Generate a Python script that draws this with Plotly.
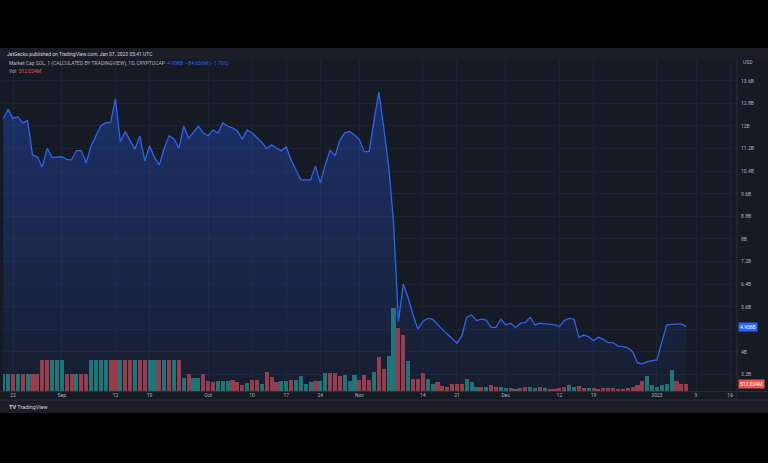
import plotly.graph_objects as go
import pandas as pd

# ---------------- data ----------------
dates = pd.date_range("2022-08-20", "2023-01-07", freq="D")

# Market cap of SOL, billions USD (daily close)
mcap_b = [
    12.27, 12.59, 12.27, 12.33, 12.10, 12.19, 10.97, 10.91, 10.54, 11.21,
    10.89, 10.89, 10.91, 10.82, 10.80, 11.13, 11.13, 10.70, 11.29, 11.65,
    12.00, 12.12, 12.12, 12.96, 11.44, 11.80, 11.48, 11.18, 11.65, 10.77,
    11.29, 10.89, 10.62, 11.21, 11.65, 11.55, 11.21, 12.00, 11.56, 11.76,
    12.00, 11.75, 11.65, 11.86, 11.75, 12.11, 12.00, 11.93, 11.82, 11.54,
    11.86, 11.75, 11.58, 11.43, 11.19, 11.33, 11.22, 11.12, 11.26, 10.80,
    10.44, 10.09, 10.09, 10.09, 10.58, 9.98, 10.62, 11.15, 10.94, 11.50,
    11.76, 11.81, 11.68, 11.52, 11.09, 11.09, 12.21, 13.21, 11.93, 10.58,
    8.60, 5.07, 6.41, 5.91, 5.31, 4.81, 5.08, 5.19, 5.16, 4.96,
    4.80, 4.64, 4.46, 4.31, 4.57, 5.24, 5.31, 5.11, 5.16, 5.13,
    4.87, 4.87, 5.16, 4.96, 5.02, 4.86, 5.02, 5.04, 5.23, 4.96,
    5.02, 4.99, 4.98, 4.96, 4.90, 5.11, 5.19, 5.16, 4.52, 4.60,
    4.54, 4.40, 4.52, 4.45, 4.33, 4.33, 4.21, 4.19, 4.15, 4.01,
    3.62, 3.58, 3.66, 3.69, 3.72, 4.36, 4.96, 4.98, 4.98, 4.993,
    4.908,
]

# Volume, millions USD
vol_m = [
    1241, 1241, 1241, 1241, 1241, 1241, 1241, 1241, 2263, 2263,
    2263, 2263, 2263, 1241, 1241, 1241, 1241, 1241, 2263, 2263,
    2263, 2263, 2263, 2263, 2263, 2263, 2263, 2263, 2263, 2263,
    2263, 2263, 2263, 2263, 2263, 2263, 2263, 949, 1241, 949,
    949, 1241, 730, 657, 730, 730, 730, 803, 657, 438,
    584, 803, 803, 511, 1387, 1022, 657, 730, 730, 803,
    803, 1095, 511, 657, 730, 730, 1314, 1314, 1314, 1095,
    1168, 730, 1168, 803, 1168, 803, 1387, 2482, 1606, 2555,
    6059, 4599, 4088, 2190, 876, 876, 1314, 876, 511, 657,
    365, 314, 489, 489, 511, 876, 635, 314, 314, 270,
    438, 314, 314, 241, 241, 168, 197, 314, 292, 241,
    270, 219, 168, 168, 241, 314, 438, 270, 343, 219,
    197, 241, 168, 219, 197, 219, 168, 146, 197, 270,
    460, 752, 1117, 438, 270, 438, 511, 1533, 752, 511,
    512.024,
]

# bar direction: g = up day (teal), r = down day (red)
vol_dir = list(
    "ggrgrgrr" "rrggg" "rrgrr"
    "ggggrrgrrgrrggrgrgr"
    "grggrrrgggrrrgrrgrrrggrggggrggrrrgggrrrgrrggrrg"
    "rrrggrrrrrrgggrgrrggrgrrgg"
    "rgrrrrggrrgrrrrrrrrrrrg"
    "gggggrrr"
)

x_tick_dates = [
    "2022-08-22", "2022-09-01", "2022-09-12", "2022-09-19", "2022-10-01",
    "2022-10-10", "2022-10-17", "2022-10-24", "2022-11-01", "2022-11-14",
    "2022-11-21", "2022-12-01", "2022-12-12", "2022-12-19", "2023-01-01",
    "2023-01-09", "2023-01-16",
]
x_tick_text = ["22", "Sep", "12", "19", "Oct", "10", "17", "24", "Nov",
               "14", "21", "Dec", "12", "19", "2023", "9", "16"]

# 4.8B level is covered by the last-price label, so its text is left empty
y_tick_vals = [3.2, 4.0, 4.8, 5.6, 6.4, 7.2, 8.0, 8.8, 9.6, 10.4, 11.2, 12.0, 12.8, 13.6]
y_tick_text = ["3.2B", "4B", "", "5.6B", "6.4B", "7.2B", "8B", "8.8B",
               "9.6B", "10.4B", "11.2B", "12B", "12.8B", "13.6B"]

# ---------------- layout helpers ----------------
W, H = 768, 463
ML, MR, MT, MB = 3, 31, 60, 72
PW, PH = W - ML - MR, H - MT - MB


def px(x):
    return (x - ML) / PW


def py(y):
    return (H - MB - y) / PH


PANE = "#161a25"
BAND = "#1b1e28"
BORDER = "#2a2e39"
GRID = "#1e2230"
TEAL = "#22756d"
RED = "#9c3b41"
BLUE = "#2962ff"
TXT = "#b2b5be"
FONT = "Roboto, Arial, sans-serif"

n = len(dates)
colors = [TEAL if c == "g" else RED for c in vol_dir[:n]]
colors += [RED] * (n - len(colors))

fig = go.Figure()

fig.add_trace(go.Bar(
    x=dates, y=vol_m[:n], marker=dict(color=colors, line=dict(width=0)),
    width=0.84 * 86400000, yaxis="y", hoverinfo="skip", showlegend=False,
))

fig.add_trace(go.Scatter(
    x=dates, y=mcap_b, mode="lines", yaxis="y2",
    line=dict(color="#2f63ee", width=1.3),
    fill="tozeroy",
    fillgradient=dict(type="vertical", start=2.6, stop=13.3,
                      colorscale=[[0, "rgba(41,98,255,0.05)"], [1, "rgba(41,98,255,0.32)"]]),
    showlegend=False,
))

shapes = [
    dict(type="rect", xref="paper", yref="paper", x0=px(0), x1=px(768), y0=py(48), y1=py(413),
         fillcolor=PANE, line=dict(width=0), layer="below"),
    dict(type="rect", xref="paper", yref="paper", x0=px(0), x1=px(768), y0=py(48), y1=py(59),
         fillcolor=BAND, line=dict(width=0), layer="below"),
    dict(type="rect", xref="paper", yref="paper", x0=px(0), x1=px(768), y0=py(400), y1=py(413),
         fillcolor=BAND, line=dict(width=0), layer="below"),
    dict(type="line", xref="paper", yref="paper", x0=px(737), x1=px(737), y0=py(59), y1=py(400),
         line=dict(color=BORDER, width=1), layer="above"),
    dict(type="line", xref="paper", yref="paper", x0=px(0), x1=px(768), y0=py(391.5), y1=py(391.5),
         line=dict(color=BORDER, width=1), layer="above"),
    dict(type="line", xref="paper", yref="paper", x0=px(0), x1=px(768), y0=py(400), y1=py(400),
         line=dict(color=BORDER, width=1), layer="above"),
]

annotations = [
    dict(text="JetGecko published on TradingView.com, Jan 07, 2023 05:41 UTC",
         x=px(5), y=py(54), xref="paper", yref="paper", xanchor="left", yanchor="middle",
         showarrow=False, font=dict(size=5, color="#d1d4dc", family=FONT)),
    dict(text="Market Cap SOL, 1 (CALCULATED BY TRADINGVIEW), 1D, CRYPTOCAP  "
              "<span style='color:#2962ff'>4.908B  −84.656M (−1.70%)</span>",
         x=px(7), y=py(63.5), xref="paper", yref="paper", xanchor="left", yanchor="middle",
         showarrow=False, font=dict(size=5, color=TXT, family=FONT)),
    dict(text="Vol  <span style='color:#ef5350'>512.024M</span>",
         x=px(7), y=py(70.5), xref="paper", yref="paper", xanchor="left", yanchor="middle",
         showarrow=False, font=dict(size=5, color=TXT, family=FONT)),
    dict(text="USD", x=px(741), y=py(62), xref="paper", yref="paper", xanchor="left",
         yanchor="middle", showarrow=False, font=dict(size=5, color=TXT, family=FONT)),
    dict(text="4.908B", x=px(738), y=py(327), xref="paper", yref="paper", xanchor="left",
         yanchor="middle", showarrow=False, bgcolor=BLUE, borderpad=1,
         font=dict(size=5, color="#ffffff", family=FONT)),
    dict(text="512.024M", x=px(738), y=py(384), xref="paper", yref="paper", xanchor="left",
         yanchor="middle", showarrow=False, bgcolor="#ef5350", borderpad=1,
         font=dict(size=5, color="#ffffff", family=FONT)),
    dict(text="<b>TV</b> TradingView", x=px(7), y=py(407), xref="paper", yref="paper",
         xanchor="left", yanchor="middle", showarrow=False,
         font=dict(size=5.5, color="#d1d4dc", family=FONT)),
]

fig.update_layout(
    width=W, height=H,
    margin=dict(l=ML, r=MR, t=MT, b=MB, pad=0),
    paper_bgcolor="#000000",
    plot_bgcolor="rgba(0,0,0,0)",
    bargap=0,
    shapes=shapes,
    annotations=annotations,
    xaxis=dict(
        type="date",
        range=["2022-08-19 22:48", "2023-01-17 09:36"],
        tickvals=x_tick_dates, ticktext=x_tick_text,
        showgrid=True, gridcolor=GRID, gridwidth=1,
        ticks="", ticklen=0, showline=False, zeroline=False,
        tickfont=dict(size=5, color=TXT, family=FONT),
        fixedrange=True,
    ),
    yaxis=dict(
        range=[0, PH * 73], showgrid=False, showticklabels=False, zeroline=False,
        showline=False, ticks="",
    ),
    yaxis2=dict(
        overlaying="y", side="right",
        range=[2.619, 14.336],
        tickvals=y_tick_vals, ticktext=y_tick_text,
        showgrid=True, gridcolor=GRID, gridwidth=1, zeroline=False,
        ticks="", ticklen=0, showline=False, ticklabelstandoff=3,
        tickfont=dict(size=5, color=TXT, family=FONT),
    ),
    showlegend=False,
)

fig.write_html("out.html")
